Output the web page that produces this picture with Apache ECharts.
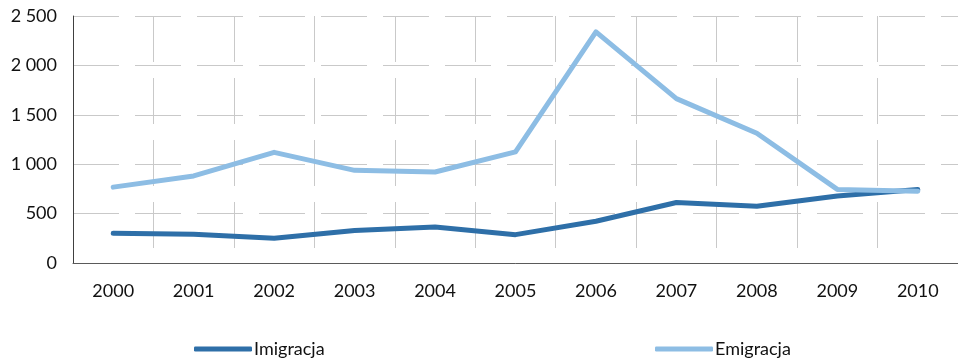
<!DOCTYPE html>
<html>
<head>
<meta charset="utf-8">
<script src="https://cdn.jsdelivr.net/npm/echarts@6/dist/echarts.min.js"></script>
<style>
  html, body { margin: 0; padding: 0; background: #fff; }
  #chart { width: 958px; height: 360px; }
</style>
</head>
<body>
<div id="chart"></div>
<script>
// Migration flows per year
const years = ['2000', '2001', '2002', '2003', '2004', '2005', '2006', '2007', '2008', '2009', '2010'];
const imigracja = [300, 290, 250, 330, 365, 287, 422, 612, 575, 678, 745];
const emigracja = [768, 881, 1120, 938, 921, 1125, 2340, 1664, 1313, 745, 727];
const yTicks = { min: 0, max: 2500, interval: 500 };

const FONT = 'Lato';
const TEXT = '#111111';
const DARK = '#2E6FA8';
const LIGHT = '#8DBDE4';
const gridLine = { color: '#c9c9c9', width: 1, type: [46, 16] };

function spaced(v) {
  return String(v).replace(/\B(?=(\d{3})+(?!\d))/g, ' ');
}

const chart = echarts.init(document.getElementById('chart'), null, { renderer: 'canvas' });
chart.setOption({
  animation: false,
  backgroundColor: '#ffffff',
  grid: { left: 73, right: 0, top: 16, bottom: 97, containLabel: false },
  legend: [
    {
      data: ['Imigracja'], left: 189, top: 335, itemWidth: 58, itemHeight: 5,
      icon: 'roundRect',
      textStyle: { fontFamily: FONT, fontSize: 18, color: TEXT, padding: [0, 0, 0, -3] }
    },
    {
      data: ['Emigracja'], left: 650, top: 335, itemWidth: 58, itemHeight: 5,
      icon: 'roundRect',
      textStyle: { fontFamily: FONT, fontSize: 18, color: TEXT, padding: [0, 0, 0, -3] }
    }
  ],
  xAxis: {
    type: 'category',
    data: years,
    boundaryGap: true,
    axisLine: { show: true, lineStyle: { color: '#5a5a5a', width: 1 } },
    axisTick: { show: false },
    axisLabel: { fontFamily: FONT, fontSize: 18, color: TEXT, margin: 19 },
    splitLine: { show: true, lineStyle: gridLine }
  },
  yAxis: {
    type: 'value',
    min: yTicks.min, max: yTicks.max, interval: yTicks.interval,
    axisLine: { show: true, lineStyle: { color: '#404040', width: 1 } },
    axisTick: { show: false },
    axisLabel: { fontFamily: FONT, fontSize: 18, color: TEXT, margin: 16, formatter: spaced },
    splitLine: { show: true, lineStyle: gridLine }
  },
  series: [
    {
      name: 'Imigracja', type: 'line', data: imigracja,
      symbol: 'none', color: DARK,
      lineStyle: { width: 5, color: DARK, cap: 'round', join: 'round' },
      z: 2
    },
    {
      name: 'Emigracja', type: 'line', data: emigracja,
      symbol: 'none', color: LIGHT,
      lineStyle: { width: 5, color: LIGHT, cap: 'round', join: 'round' },
      z: 3
    }
  ]
});
</script>
</body>
</html>
